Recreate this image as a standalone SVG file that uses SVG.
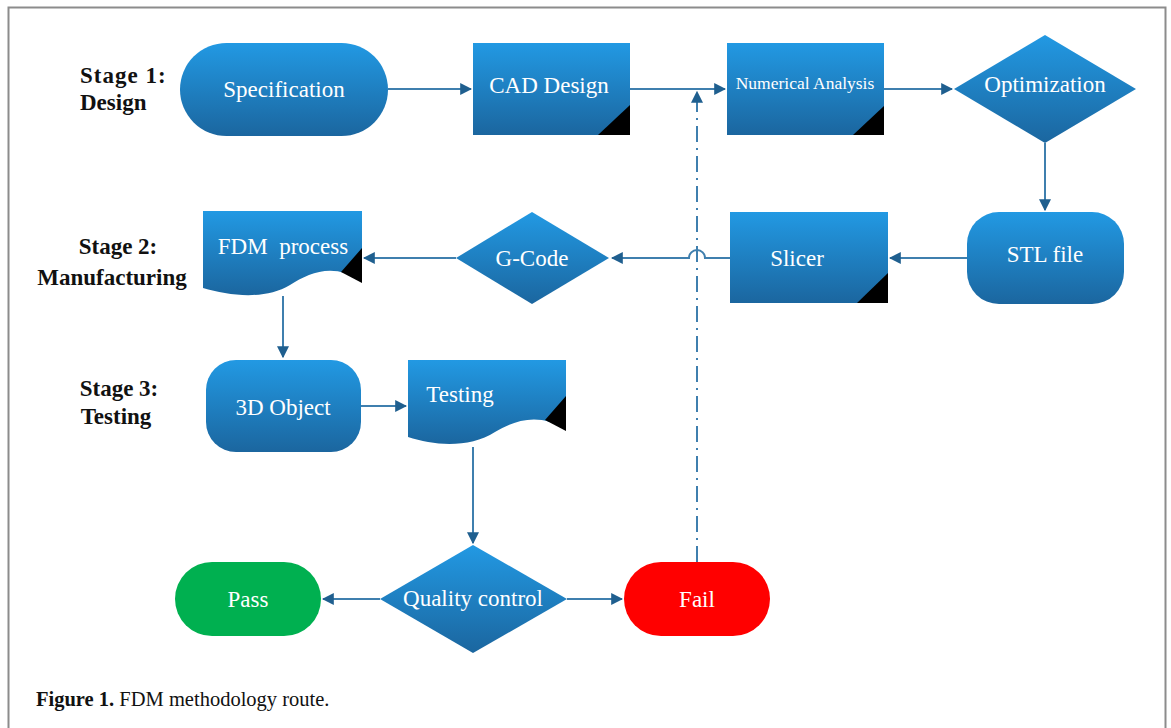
<svg xmlns="http://www.w3.org/2000/svg" width="1171" height="728" viewBox="0 0 1171 728">
<style>
.lbl{font-family:"Liberation Serif",serif;fill:#fff;text-anchor:middle;dominant-baseline:central}
.stage{font-family:"Liberation Serif",serif;font-weight:bold;font-size:23px;fill:#111}
.node{fill:url(#g)}
.conn{stroke:#3f7fae;stroke-width:2;fill:none}
.corner{fill:#000}
</style>
<defs>
<linearGradient id="g" x1="0" y1="0" x2="0" y2="1">
<stop offset="0" stop-color="#2299e3"/>
<stop offset="1" stop-color="#1b669f"/>
</linearGradient>
<marker id="ah" viewBox="0 0 10 10" refX="9" refY="5" markerWidth="12" markerHeight="12" markerUnits="userSpaceOnUse" orient="auto">
<path d="M0,0 L10,5 L0,10 z" fill="#1f5f8f"/>
</marker>
</defs>
<rect x="0" y="0" width="1171" height="728" fill="#fff"/>
<path d="M8.5,728 V7.5 H1165.5 V728" fill="none" stroke="#8c8c8c" stroke-width="2"/>

<g id="stages">
<text class="stage" x="80" y="83" letter-spacing="1">Stage 1:</text>
<text class="stage" x="80" y="110">Design</text>
<text class="stage" x="118" y="254" text-anchor="middle">Stage 2:</text>
<text class="stage" x="112" y="285" text-anchor="middle">Manufacturing</text>
<text class="stage" x="119" y="396" text-anchor="middle">Stage 3:</text>
<text class="stage" x="116" y="424" text-anchor="middle">Testing</text>
</g>

<g id="connectors">
<line class="conn" x1="388" y1="89" x2="471" y2="89" marker-end="url(#ah)"/>
<line class="conn" x1="630" y1="89" x2="725" y2="89" marker-end="url(#ah)"/>
<line class="conn" x1="884" y1="89" x2="952" y2="89" marker-end="url(#ah)"/>
<line class="conn" x1="1045" y1="143" x2="1045" y2="210" marker-end="url(#ah)"/>
<line class="conn" x1="967" y1="258" x2="890" y2="258" marker-end="url(#ah)"/>
<path class="conn" d="M730,258 H705 A8,8 0 0 0 689,258 H612" marker-end="url(#ah)"/>
<line class="conn" x1="456" y1="258" x2="364" y2="258" marker-end="url(#ah)"/>
<line class="conn" x1="283" y1="296" x2="283" y2="357" marker-end="url(#ah)"/>
<line class="conn" x1="361" y1="406" x2="406" y2="406" marker-end="url(#ah)"/>
<line class="conn" x1="473" y1="447" x2="473" y2="543" marker-end="url(#ah)"/>
<line class="conn" x1="380" y1="599" x2="323" y2="599" marker-end="url(#ah)"/>
<line class="conn" x1="567" y1="599" x2="622" y2="599" marker-end="url(#ah)"/>
<line class="conn" x1="697" y1="562" x2="697" y2="92" stroke-dasharray="16 6 2 6" marker-end="url(#ah)"/>
</g>

<g id="specification">
<rect class="node" x="180" y="43" width="208" height="93" rx="46.5"/>
<text class="lbl" x="284" y="89" font-size="23">Specification</text>
</g>
<g id="cad-design">
<rect class="node" x="473" y="43" width="157" height="92"/>
<path class="corner" d="M598,135 L630,135 L630,105 z"/>
<text class="lbl" x="549" y="85" font-size="23">CAD Design</text>
</g>
<g id="numerical-analysis">
<rect class="node" x="727" y="43" width="157" height="92"/>
<path class="corner" d="M853,135 L884,135 L884,106 z"/>
<text class="lbl" x="805" y="83" font-size="17.5">Numerical Analysis</text>
</g>
<g id="optimization">
<path class="node" d="M1045,35 L1136,89 L1045,143 L954,89 z"/>
<text class="lbl" x="1045" y="84" font-size="23">Optimization</text>
</g>
<g id="stl-file">
<rect class="node" x="967" y="212" width="157" height="92" rx="32"/>
<text class="lbl" x="1045" y="254" font-size="23">STL file</text>
</g>
<g id="slicer">
<rect class="node" x="730" y="212" width="158" height="91"/>
<path class="corner" d="M857,303 L888,303 L888,273 z"/>
<text class="lbl" x="797" y="258" font-size="23">Slicer</text>
</g>
<g id="g-code">
<path class="node" d="M532,212 L609,258 L532,304 L456,258 z"/>
<text class="lbl" x="532" y="258" font-size="23">G-Code</text>
</g>
<g id="fdm-process">
<path class="node" d="M203,211 H362 V282 C335,262 310,272 290,285 C265,300 230,296 203,288 z"/>
<path class="corner" d="M362,248 L362,283 L341,272 z"/>
<text class="lbl" x="283" y="246" font-size="23">FDM&#160; process</text>
</g>
<g id="3d-object">
<rect class="node" x="206" y="360" width="155" height="92" rx="30"/>
<text class="lbl" x="283" y="407" font-size="23">3D Object</text>
</g>
<g id="testing">
<path class="node" d="M408,360 H566 V430 C540,412 515,420 495,432 C470,448 435,446 408,437 z"/>
<path class="corner" d="M566,396 L566,431 L545,420 z"/>
<text class="lbl" x="460" y="394" font-size="23">Testing</text>
</g>
<g id="quality-control">
<path class="node" d="M473,545 L567,599 L473,653 L380,599 z"/>
<text class="lbl" x="473" y="598" font-size="23">Quality control</text>
</g>
<g id="pass">
<rect x="175" y="562" width="146" height="74" rx="37" fill="#00b050"/>
<text class="lbl" x="248" y="599" font-size="23">Pass</text>
</g>
<g id="fail">
<rect x="624" y="562" width="146" height="74" rx="37" fill="#ff0000"/>
<text class="lbl" x="697" y="599" font-size="23">Fail</text>
</g>

<g id="caption">
<text x="36" y="706" font-family="Liberation Serif,serif" font-size="20.5" fill="#111"><tspan font-weight="bold">Figure 1.</tspan> FDM methodology route.</text>
</g>
</svg>
